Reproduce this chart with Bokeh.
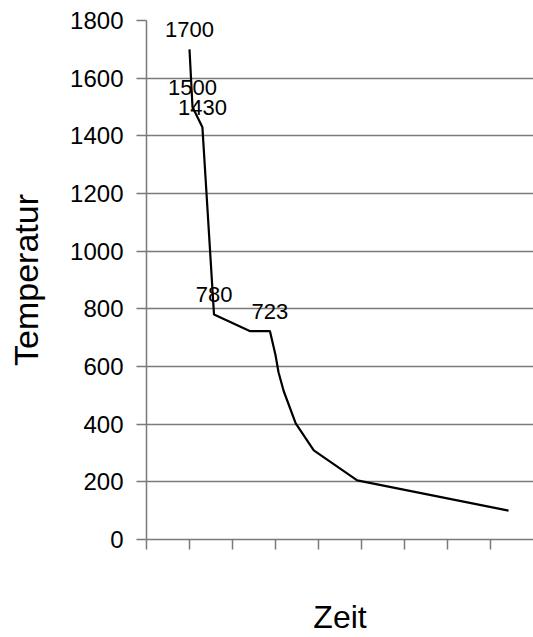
from bokeh.plotting import figure
from bokeh.models import FixedTicker, Range1d, ColumnDataSource
from bokeh.core.properties import value
from bokeh.embed import file_html
from bokeh.resources import INLINE

# Data
zeit = [1.0, 1.07, 1.3, 1.57, 2.4, 2.87, 3.0, 3.07, 3.19, 3.47, 3.89, 4.9, 8.42]
temperatur = [1700, 1500, 1430, 780, 723, 723, 640, 580, 515, 403, 309, 205, 100]
label_index = [0, 1, 2, 3, 5]
label_text = ["1700", "1500", "1430", "780", "723"]
y_ticks = [0, 200, 400, 600, 800, 1000, 1200, 1400, 1600, 1800]
x_ticks = [0, 1, 2, 3, 4, 5, 6, 7, 8]

FONT = "Liberation Sans"
GRAY = "#7a7a7a"

p = figure(width=533, height=637, output_backend="svg", toolbar_location=None,
           x_range=Range1d(0, 9.0), y_range=Range1d(0, 1800),
           min_border_left=146, min_border_top=20, min_border_bottom=94,
           min_border_right=0)
p.outline_line_color = None
p.background_fill_color = "white"
p.border_fill_color = "white"

p.xgrid.grid_line_color = None
p.ygrid.grid_line_color = GRAY
p.ygrid.grid_line_width = 1.5
p.ygrid.ticker = FixedTicker(ticks=y_ticks)

p.yaxis.ticker = FixedTicker(ticks=y_ticks)
p.xaxis.ticker = FixedTicker(ticks=x_ticks)
for ax in (p.xaxis, p.yaxis):
    ax.axis_line_color = GRAY
    ax.axis_line_width = 1.5
    ax.major_tick_line_color = GRAY
    ax.major_tick_line_width = 1.5
    ax.major_tick_in = 0
    ax.major_tick_out = 10
    ax.minor_tick_line_color = None
    ax.axis_label_text_font = FONT
    ax.axis_label_text_font_style = "normal"
    ax.axis_label_text_color = "black"

p.yaxis.major_label_text_font = FONT
p.yaxis.major_label_text_font_size = "24px"
p.yaxis.major_label_text_color = "black"
p.yaxis.major_label_standoff = 13
p.yaxis.axis_label = "Temperatur"
p.yaxis.axis_label_text_font_size = "34px"
p.yaxis.axis_label_standoff = 22

p.xaxis.major_label_overrides = {t: "" for t in x_ticks}
p.xaxis.major_label_text_font_size = "1px"
p.xaxis.major_label_standoff = 0
p.xaxis.axis_label = "Zeit"
p.xaxis.axis_label_text_font_size = "32px"
p.xaxis.axis_label_standoff = 49

p.line(zeit, temperatur, line_color="black", line_width=2.2)

src = ColumnDataSource(dict(
    x=[zeit[i] for i in label_index],
    y=[temperatur[i] for i in label_index],
    t=label_text,
))
p.text(x="x", y="y", text="t", source=src, text_align="center",
       text_baseline="alphabetic", y_offset=-20,
       text_font=value(FONT), text_font_size="22px", text_color="black")

open("out.html", "w").write(file_html(p, INLINE))
